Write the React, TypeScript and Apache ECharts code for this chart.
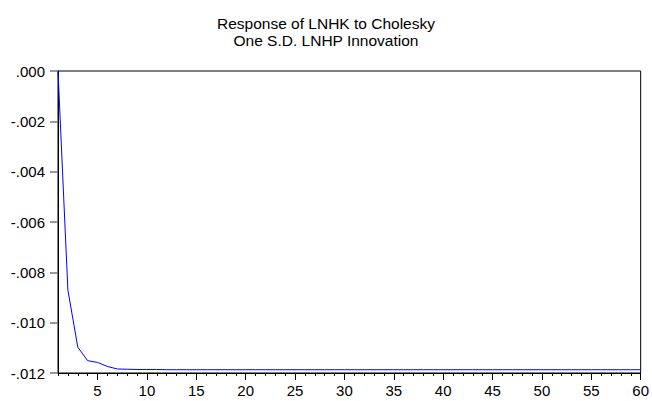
import React, { useEffect, useRef } from "react";
import * as echarts from "echarts";

const titleLines = ["Response of LNHK to Cholesky", "One S.D. LNHP Innovation"];
const periods = Array.from({ length: 60 }, (_, i) => String(i + 1));
const response = [
  0, -0.0087, -0.01097, -0.01151, -0.01158, -0.01174, -0.01184, -0.01185, -0.01186, -0.01186,
  -0.01186, -0.01187, -0.01187, -0.01187, -0.01187, -0.01187, -0.01187, -0.01187, -0.01187, -0.01187,
  -0.01187, -0.01187, -0.01187, -0.01187, -0.01187, -0.01187, -0.01187, -0.01187, -0.01187, -0.01187,
  -0.01187, -0.01187, -0.01187, -0.01187, -0.01187, -0.01187, -0.01187, -0.01187, -0.01187, -0.01187,
  -0.01187, -0.01187, -0.01187, -0.01187, -0.01187, -0.01187, -0.01187, -0.01187, -0.01187, -0.01187,
  -0.01187, -0.01187, -0.01187, -0.01187, -0.01187, -0.01187, -0.01187, -0.01187, -0.01187, -0.01187,
];
const yMin = -0.012;
const yMax = 0;
const yStep = 0.002;

function fmtY(v: number): string {
  const s = Math.abs(v).toFixed(3).replace(/^0/, "");
  return (v < -1e-9 ? "-" : "") + s;
}

const W = 652;
const H = 401;
const G = { left: 58, top: 71, right: 9, bottom: 28 };

export default function App() {
  const ref = useRef<HTMLDivElement>(null);
  useEffect(() => {
    if (!ref.current) return;
    const chart = echarts.init(ref.current, undefined, { renderer: "svg" });
    const font = "Liberation Sans, Arial, sans-serif";
    chart.setOption({
      animation: false,
      backgroundColor: "#ffffff",
      title: {
        text: titleLines.join("\n"),
        left: "center",
        top: 10,
        textStyle: { fontFamily: font, fontSize: 15.5, fontWeight: "normal", color: "#000", lineHeight: 17 },
      },
      grid: {
        left: G.left,
        top: G.top,
        right: G.right,
        bottom: G.bottom,
        show: true,
        borderColor: "#000",
        borderWidth: 1,
        backgroundColor: "#fff",
      },
      xAxis: [
        {
          type: "category",
          data: periods,
          boundaryGap: false,
          position: "bottom",
          axisLine: { show: true, onZero: false, lineStyle: { color: "#000", width: 1 } },
          axisTick: { show: true, interval: 0, length: 3, lineStyle: { color: "#000" } },
          axisLabel: {
            interval: (i: number, v: string) => Number(v) % 5 === 0,
            fontFamily: font,
            fontSize: 15,
            color: "#000",
            margin: 10,
          },
          splitLine: { show: false },
        },
        {
          type: "category",
          data: periods,
          boundaryGap: false,
          position: "bottom",
          axisLine: { show: false, onZero: false },
          axisTick: {
            show: true,
            interval: (i: number, v: string) => Number(v) % 5 === 0,
            length: 7,
            lineStyle: { color: "#000" },
          },
          axisLabel: { show: false },
          splitLine: { show: false },
        },
      ],
      yAxis: {
        type: "value",
        min: yMin,
        max: yMax,
        interval: yStep,
        axisLine: { show: true, onZero: false, lineStyle: { color: "#000" } },
        axisTick: { show: true, length: 8, lineStyle: { color: "#777", width: 1.5 } },
        axisLabel: { formatter: fmtY, fontFamily: font, fontSize: 15, color: "#000", margin: 13 },
        splitLine: { show: false },
      },
      series: [
        {
          type: "line",
          data: response,
          xAxisIndex: 0,
          showSymbol: false,
          symbol: "none",
          lineStyle: { color: "#0000ff", width: 1 },
        },
      ],
    });
    return () => chart.dispose();
  }, []);
  return <div ref={ref} style={{ position: "fixed", left: 0, top: 0, width: W, height: H }} />;
}
